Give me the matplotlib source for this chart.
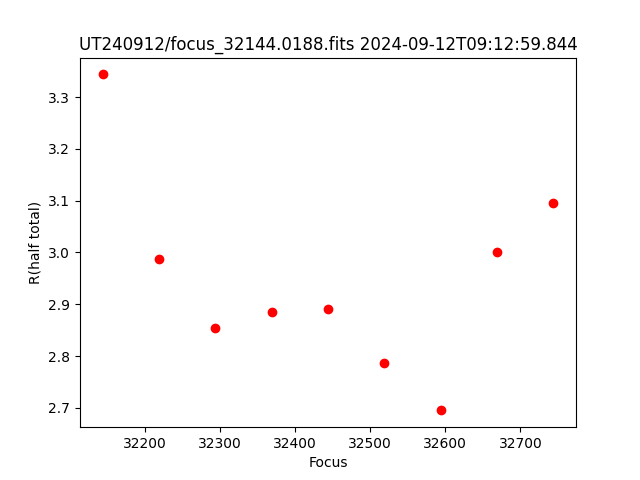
import matplotlib
matplotlib.use("Agg")
import matplotlib.pyplot as plt

# focus positions and half-total radius
focus = [32144, 32219, 32294, 32369, 32444, 32519, 32594, 32669, 32744]
r_half = [3.344, 2.987, 2.854, 2.885, 2.890, 2.786, 2.695, 3.000, 3.095]

titulo = "UT240912/focus_32144.0188.fits 2024-09-12T09:12:59.844"

fig, ax = plt.subplots(figsize=(6.4, 4.8), dpi=100)
ax.plot(focus, r_half, 'ro')
ax.set_xlabel("Focus")
ax.set_ylabel("R(half total)")
ax.set_title(titulo)
fig.savefig("out.png")
